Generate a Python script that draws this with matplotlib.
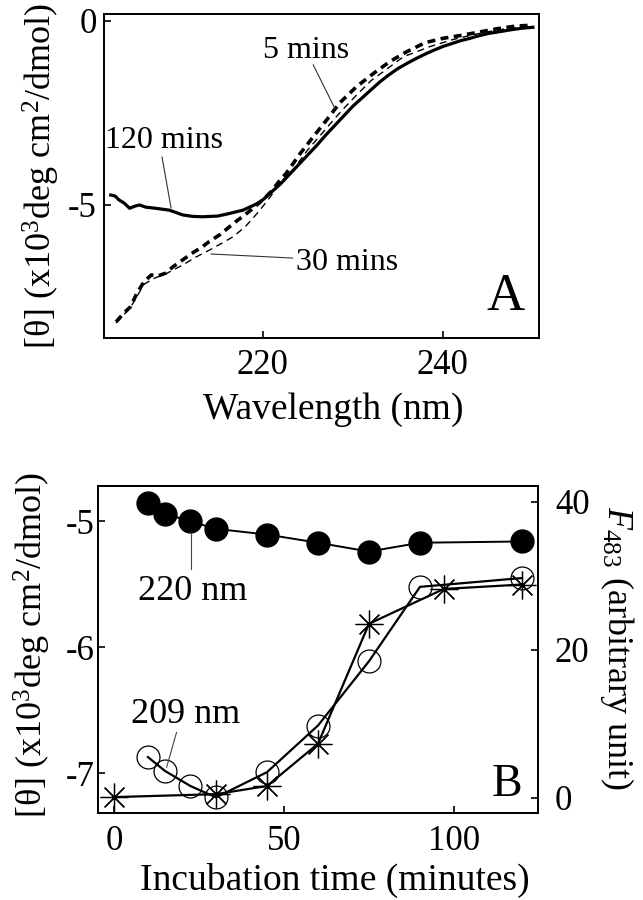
import numpy as np
import matplotlib
matplotlib.use("Agg")
import matplotlib.pyplot as plt

plt.rcParams['font.family'] = ['Liberation Serif', 'DejaVu Serif']
plt.rcParams['mathtext.fontset'] = 'custom'
plt.rcParams['mathtext.rm'] = 'Liberation Serif'
plt.rcParams['mathtext.it'] = 'Liberation Serif:italic'
plt.rcParams['axes.unicode_minus'] = False

# Panel A : spectres CD (longueur d'onde en nm, [theta] en 10^3 deg cm2/dmol)
wl_120 = [203.1, 203.6, 204.0, 204.6, 205.2, 205.8, 206.3, 207.0, 208.1, 209.6, 211.1,
          212.2, 213.3, 215.0, 216.3, 217.8, 219.3, 220, 221, 222, 223, 224, 225, 226,
          227, 228, 229, 230, 231, 232, 233, 234, 235, 236, 237, 238, 239, 240, 241,
          242, 243, 244, 245, 246, 247, 248, 249, 250]
th_120 = [-4.73, -4.76, -4.86, -4.95, -5.09, -5.03, -5.00, -5.06, -5.09, -5.14, -5.27,
          -5.31, -5.32, -5.30, -5.23, -5.14, -4.97, -4.86, -4.64, -4.42, -4.16, -3.90,
          -3.64, -3.38, -3.10, -2.84, -2.58, -2.32, -2.10, -1.88, -1.66, -1.47, -1.30,
          -1.16, -1.03, -0.91, -0.80, -0.70, -0.62, -0.54, -0.48, -0.41, -0.35, -0.31,
          -0.27, -0.23, -0.20, -0.18]

wl_5 = [203.7, 204.5, 205.3, 206.0, 206.8, 207.6, 208.4, 209.2, 210.0, 211.1, 212.0,
        213.3, 214.0, 215.2, 216.0, 217.0, 218.0, 218.9, 220.0, 220.9, 222.0, 222.6,
        224.1, 225.6, 227.1, 228.5, 230.4, 232.3, 234.1, 236.0, 238.0, 240.0, 242.0,
        244.0, 246.0, 248.0, 250.0]
th_5 = [-8.17, -7.95, -7.76, -7.40, -7.08, -6.90, -6.92, -6.85, -6.68, -6.49, -6.33,
        -6.13, -6.00, -5.81, -5.65, -5.45, -5.27, -5.09, -4.86, -4.64, -4.30, -4.14,
        -3.62, -3.15, -2.69, -2.24, -1.79, -1.43, -1.11, -0.84, -0.60, -0.48, -0.40,
        -0.31, -0.22, -0.15, -0.12]

wl_30 = [203.7, 205.3, 206.8, 208.0, 209.2, 211.1, 212.5, 214.1, 215.5, 216.7, 218.0,
         218.9, 219.8, 220.7, 222.0, 223.5, 225.0, 226.5, 228.0, 229.3, 230.4, 232.0,
         233.4, 235.6, 238.6, 241.0, 243.0, 245.0, 247.0, 249.0, 250.0]
th_30 = [-8.20, -7.78, -7.15, -6.98, -6.87, -6.63, -6.42, -6.22, -6.03, -5.86, -5.60,
         -5.36, -5.10, -4.82, -4.38, -4.00, -3.50, -3.08, -2.65, -2.30, -2.02, -1.63,
         -1.38, -0.98, -0.70, -0.52, -0.40, -0.30, -0.22, -0.17, -0.15]

# Panel B : cinetique (minutes)
t_220 = [10, 15, 22.5, 30, 45, 60, 75, 90, 120]
th_220 = [-4.855, -4.94, -5.00, -5.06, -5.105, -5.17, -5.24, -5.17, -5.16]
t_209 = [10, 15, 22.5, 30, 45, 60, 75, 90, 120]
th_209 = [-6.87, -6.98, -7.10, -7.19, -6.99, -6.62, -6.11, -5.52, -5.45]
t_f = [0, 30, 45, 60, 75, 97, 120]
f_483 = [0.1, 0.5, 1.6, 7.3, 23.5, 28.2, 28.8]

ylab = "[θ] (x10$^{3}$deg cm$^{2}$/dmol)"
tick_fs = 25
lab_fs = 27

fig = plt.figure(figsize=(6.43, 9.0), dpi=100)

# ---------- Panel A ----------
axA = fig.add_axes([0.161, 0.6244, 0.6776, 0.360])
axA.plot(wl_120, th_120, color='black', lw=2.3, solid_joinstyle='round')
axA.plot(wl_5, th_5, color='black', lw=2.6, dashes=[2.2, 1.5])
axA.plot(wl_30, th_30, color='black', lw=1.0, dashes=[5, 3.5])
axA.set_xlim(202.3, 250.7)
axA.set_ylim(-8.61, 0.18)
axA.set_xticks([220, 240])
axA.set_yticks([-5, 0])
axA.tick_params(direction='in', length=5, width=1.2, labelsize=tick_fs)
axA.tick_params(axis='x', pad=8)
axA.tick_params(axis='y', pad=5)
for s in axA.spines.values():
    s.set_linewidth(1.4)

ann_fs = 23
axA.text(209.05, -3.24, "120 mins", fontsize=ann_fs, ha='center', va='center')
axA.plot([208.8, 209.8], [-3.70, -5.08], color='#333333', lw=0.8)
axA.text(224.75, -0.82, "5 mins", fontsize=ann_fs, ha='center', va='center')
axA.plot([225.6, 228.0], [-1.20, -2.38], color='#333333', lw=0.8)
axA.text(229.4, -6.57, "30 mins", fontsize=ann_fs, ha='center', va='center')
axA.plot([223.3, 214.25], [-6.44, -6.33], color='#333333', lw=0.8)
axA.text(247.0, -7.50, "A", fontsize=38, ha='center', va='center')

fig.text(333 / 643, 1 - 410 / 900, "Wavelength (nm)", fontsize=lab_fs,
         ha='center', va='center')
fig.text(41 / 643, 1 - 176 / 900, ylab, fontsize=26, rotation=90,
         ha='center', va='center')

# ---------- Panel B ----------
axB = fig.add_axes([0.1529, 0.0972, 0.6843, 0.3628])
axB.plot(t_220, th_220, color='black', lw=1.4, marker='o', ms=16.5,
         mfc='black', mec='black')
axB.plot(t_209, th_209, color='black', lw=1.6, marker='o', ms=16.5,
         mfc='none', mec='black', mew=0.9)
axB.set_xlim(-4.6, 124.8)
axB.set_ylim(-7.31, -4.72)
axB.set_xticks([0, 50, 100])
axB.set_yticks([-7, -6, -5])
axB.tick_params(direction='in', length=5, width=1.2, labelsize=tick_fs)
axB.tick_params(axis='x', pad=9)
axB.tick_params(axis='y', pad=3)
for s in axB.spines.values():
    s.set_linewidth(1.4)

axF = axB.twinx()
axF.plot(t_f, f_483, color='black', lw=1.6, marker=(8, 2, 0), ms=20,
         mec='black', mew=0.9)
axF.set_ylim(-1.98, 42.1)
axF.set_yticks([0, 20, 40])
axF.tick_params(direction='in', length=5, width=1.2, labelsize=tick_fs, pad=12)
for s in axF.spines.values():
    s.set_linewidth(1.4)

axB.text(23.2, -5.557, "220 nm", fontsize=26, ha='center', va='center')
axB.plot([22.6, 22.6], [-5.09, -5.38], color='#444444', lw=0.8)
axB.text(21.0, -6.53, "209 nm", fontsize=26, ha='center', va='center')
axB.plot([18.4, 15.5], [-6.675, -6.95], color='#444444', lw=0.8)
axB.text(115.6, -7.09, "B", fontsize=33, ha='center', va='center')

fig.text(335 / 643, 1 - 880 / 900, "Incubation time (minutes)", fontsize=lab_fs,
         ha='center', va='center')
fig.text(32 / 643, 1 - 645 / 900, ylab, fontsize=26, rotation=90,
         ha='center', va='center')
fig.text(617 / 643, 1 - 648 / 900, "$F_{483}$ (arbitrary unit)", fontsize=26,
         rotation=270, ha='center', va='center')

fig.savefig("out.png", dpi=100)
